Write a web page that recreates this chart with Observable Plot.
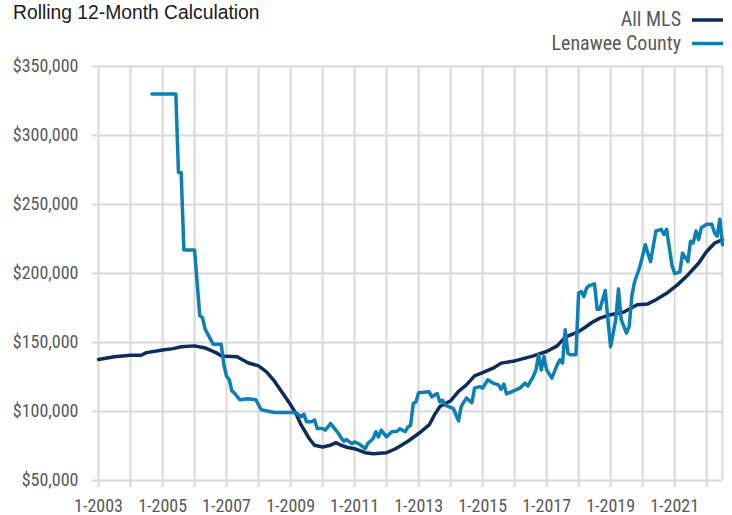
<!DOCTYPE html>
<html>
<head>
<meta charset="utf-8">
<script src="https://cdn.jsdelivr.net/npm/d3@7"></script>
<script src="https://cdn.jsdelivr.net/npm/@observablehq/plot@0.6"></script>
<style>
  html, body { margin: 0; padding: 0; background: #ffffff; }
  #chart { width: 732px; height: 515px; position: relative; overflow: hidden; }
  svg { display: block; overflow: visible; }
</style>
</head>
<body>
<div id="chart"></div>
<script>
const title = "Rolling 12-Month Calculation";
const seriesNames = ["All MLS", "Lenawee County"];
const seriesColors = ["#0b2d5e", "#0c7fb6"];

// All MLS: [month, median price]
const allMls = [
  ["2003-01",137800],["2003-07",139700],["2004-01",140800],["2004-05",140800],["2004-07",142700],
  ["2005-01",144600],["2005-05",145600],["2005-08",147000],["2006-01",147600],["2006-05",146100],
  ["2006-09",142700],["2006-11",140500],["2007-01",140000],["2007-05",139700],["2007-09",135400],
  ["2008-01",133100],["2008-04",128800],["2008-07",122000],["2008-10",113400],["2009-01",104900],
  ["2009-03",98800],["2009-05",90300],["2009-08",80500],["2009-10",75600],["2010-01",74400],
  ["2010-04",75600],["2010-06",77500],["2010-08",75600],["2010-10",74200],["2011-01",73100],
  ["2011-05",70200],["2011-08",69500],["2012-01",70200],["2012-04",72700],["2012-06",74900],
  ["2012-09",78500],["2013-01",84100],["2013-05",90300],["2013-07",97600],["2013-09",103700],
  ["2014-01",107800],["2014-04",114600],["2014-07",119400],["2014-10",125900],["2015-01",128300],
  ["2015-05",131400],["2015-08",135100],["2016-01",136700],["2016-05",138700],["2016-08",140400],
  ["2017-01",143500],["2017-05",147600],["2017-08",153900],["2018-01",158000],["2018-03",160400],
  ["2018-06",164500],["2018-09",167700],["2019-01",170200],["2019-06",172100],["2019-11",177400],
  ["2020-03",178000],["2020-06",181000],["2020-10",185700],["2021-02",191800],["2021-06",199000],
  ["2021-10",207500],["2022-01",216000],["2022-04",222000],["2022-07",224500]
];

// Lenawee County: [month, median price]
const lenawee = [
  ["2004-09",330000],["2005-06",330000],["2005-07",273200],["2005-08",273200],["2005-09",217100],
  ["2006-01",217100],["2006-03",169600],["2006-04",168000],["2006-05",159800],["2006-06",156100],
  ["2006-08",148800],["2006-11",148800],["2006-12",134000],["2007-01",125600],["2007-02",123200],
  ["2007-03",115200],["2007-04",113400],["2007-06",108600],["2007-09",109300],["2007-12",108600],
  ["2008-02",101300],["2008-07",99300],["2009-03",99300],["2009-05",96400],["2009-06",98100],
  ["2009-07",92700],["2009-09",92700],["2009-10",94000],["2009-11",87800],["2010-01",87800],
  ["2010-02",86600],["2010-04",91400],["2010-06",86600],["2010-07",84100],["2010-08",81000],
  ["2010-09",78500],["2010-10",79700],["2010-12",76800],["2011-01",78000],["2011-03",76300],
  ["2011-05",73100],["2011-06",76800],["2011-08",80500],["2011-09",85400],["2011-10",81700],
  ["2011-11",86600],["2012-01",81700],["2012-03",85400],["2012-05",85800],["2012-06",87600],
  ["2012-08",85400],["2012-09",88900],["2012-10",90000],["2012-11",105800],["2012-12",107000],
  ["2013-01",113600],["2013-05",114300],["2013-06",110700],["2013-08",113100],["2013-09",107000],
  ["2013-10",108200],["2013-11",104600],["2014-02",102200],["2014-04",93300],["2014-05",103400],
  ["2014-06",107000],["2014-07",109700],["2014-09",106500],["2014-10",117000],["2014-12",118100],
  ["2015-01",117000],["2015-03",123000],["2015-05",120600],["2015-07",119400],["2015-08",116200],
  ["2015-09",119900],["2015-10",112800],["2015-12",114500],["2016-03",117000],["2016-05",120600],
  ["2016-06",118600],["2016-08",125400],["2016-09",130200],["2016-10",141100],["2016-11",130200],
  ["2016-12",139900],["2017-01",130200],["2017-03",124200],["2017-05",133800],["2017-06",137500],
  ["2017-07",135100],["2017-08",159200],["2017-09",142300],["2017-10",141100],["2017-12",141100],
  ["2018-01",185800],["2018-02",187000],["2018-03",183300],["2018-04",189400],["2018-05",191400],
  ["2018-06",191800],["2018-07",192600],["2018-08",174100],["2018-09",174100],["2018-11",187700],
  ["2018-12",166800],["2019-01",147000],["2019-03",166800],["2019-04",188900],["2019-05",166800],
  ["2019-07",156900],["2019-08",161800],["2019-09",184000],["2019-10",193900],["2019-12",204900],
  ["2020-02",220900],["2020-03",214800],["2020-04",208600],["2020-06",230800],["2020-08",232000],
  ["2020-09",228300],["2020-10",232000],["2020-12",206100],["2021-01",200000],["2021-03",201200],
  ["2021-04",214800],["2021-06",208600],["2021-07",223400],["2021-08",222200],["2021-09",230800],
  ["2021-10",224600],["2021-11",233200],["2022-01",235700],["2022-03",235700],["2022-04",229500],
  ["2022-05",227100],["2022-06",239400],["2022-07",220900]
];

const yTicks = [50000, 100000, 150000, 200000, 250000, 300000, 350000];
const gridYears = d3.range(2003, 2023);
const labelYears = [2003, 2005, 2007, 2009, 2011, 2013, 2015, 2017, 2019, 2021];

const parse = d3.utcParse("%Y-%m");
const mlsData = allMls.map(([d, v]) => ({date: parse(d), value: v}));
const lenData = lenawee.map(([d, v]) => ({date: parse(d), value: v}));
const yearDate = y => new Date(Date.UTC(y, 0, 1));
const xStart = new Date(Date.UTC(2002, 9, 24));
const xEnd = new Date(Date.UTC(2022, 6, 1));

const narrow = '"Liberation Sans Narrow", "Arial Narrow", "Roboto Condensed", sans-serif';
const regular = '"Liberation Sans", Arial, Helvetica, sans-serif';

// Header (title + legend)
const header = d3.create("svg").attr("width", 732).attr("height", 54);
header.append("text").attr("x", 13).attr("y", 19)
  .attr("font-family", regular).attr("font-size", 19.3).attr("fill", "#1a1a1a").text(title);
seriesNames.forEach((name, i) => {
  const yb = 26 + i * 23.5;
  header.append("text").attr("x", 681).attr("y", yb).attr("text-anchor", "end")
    .attr("font-family", narrow).attr("font-size", 20).attr("fill", "#595959").text(name);
  header.append("line").attr("x1", 692).attr("x2", 723).attr("y1", yb - 6).attr("y2", yb - 6)
    .attr("stroke", seriesColors[i]).attr("stroke-width", 3.5);
});

const gridColor = "#d9d9d9";
const chart = Plot.plot({
  width: 732,
  height: 461,
  marginLeft: 92,
  marginRight: 10,
  marginTop: 12,
  marginBottom: 28,
  style: {fontFamily: narrow, fontSize: "18px", color: "#595959", background: "#ffffff", overflow: "visible"},
  x: {type: "utc", domain: [xStart, xEnd], label: null},
  y: {domain: [45000, 350000], label: null},
  marks: [
    Plot.gridX({ticks: gridYears.map(yearDate), stroke: gridColor, strokeOpacity: 1, strokeWidth: 2}),
    Plot.gridY({ticks: yTicks, stroke: gridColor, strokeOpacity: 1, strokeWidth: 2}),
    Plot.ruleX([xEnd], {y1: yTicks[0], y2: yTicks[yTicks.length - 1], stroke: gridColor, strokeWidth: 2}),
    Plot.axisX({ticks: labelYears.map(yearDate), tickFormat: d => "1-" + d.getUTCFullYear(),
      tickSize: 0, tickPadding: 12, fill: "#595959", label: null}),
    Plot.axisY({ticks: yTicks, tickFormat: d => "$" + d3.format(",")(d),
      tickSize: 0, tickPadding: 14, fill: "#595959", label: null}),
    Plot.line(mlsData, {x: "date", y: "value", stroke: seriesColors[0], strokeWidth: 3.5}),
    Plot.line(lenData, {x: "date", y: "value", stroke: seriesColors[1], strokeWidth: 3.5})
  ]
});

const root = document.getElementById("chart");
root.appendChild(header.node());
root.appendChild(chart);
</script>
</body>
</html>
